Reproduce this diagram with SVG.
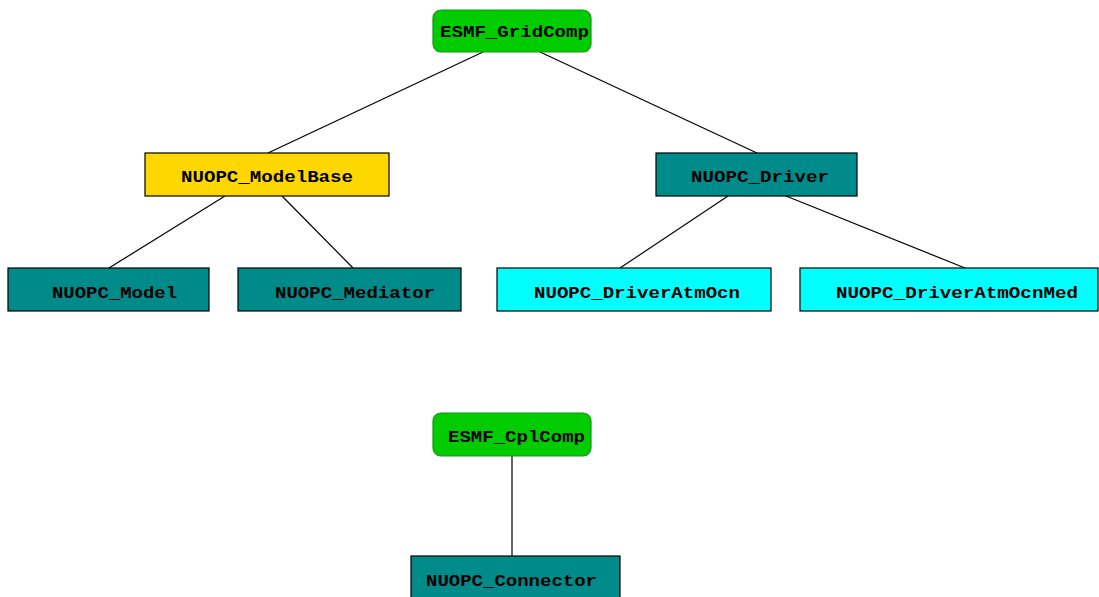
<svg xmlns="http://www.w3.org/2000/svg" width="1099" height="597" viewBox="0 0 1099 597">
<style>
.t{font-family:"Liberation Mono","Courier New",monospace;font-weight:bold;font-size:17px;fill:#000}
.b{stroke:#000;stroke-width:1.2}
.esmf{fill:#00cc00;stroke:#119911;stroke-width:1.2}
.gold{fill:#ffd700}
.teal{fill:#008b8b}
.cyan{fill:#00ffff}
.c{stroke:#000;stroke-width:1.2;fill:none}
</style>
<rect width="1099" height="597" fill="#fff"/>
<g id="connectors">
<line class="c" x1="483" y1="52" x2="268" y2="153"/>
<line class="c" x1="540" y1="52" x2="757" y2="153"/>
<line class="c" x1="225" y1="196" x2="109" y2="268"/>
<line class="c" x1="282" y1="196" x2="353" y2="268"/>
<line class="c" x1="728" y1="196" x2="620" y2="268"/>
<line class="c" x1="786" y1="196" x2="965" y2="268"/>
<line class="c" x1="512" y1="456" x2="512" y2="556"/>
</g>
<g id="ESMF_GridComp">
<rect class="esmf" x="433" y="10" width="158" height="42" rx="8"/>
<text class="t" x="440" y="37" textLength="149" lengthAdjust="spacingAndGlyphs">ESMF_GridComp</text>
</g>
<g id="NUOPC_ModelBase">
<rect class="b gold" x="145" y="153" width="244" height="43"/>
<text class="t" x="181" y="182" textLength="172" lengthAdjust="spacingAndGlyphs">NUOPC_ModelBase</text>
</g>
<g id="NUOPC_Driver">
<rect class="b teal" x="656" y="153" width="201" height="43"/>
<text class="t" x="691" y="182" textLength="138" lengthAdjust="spacingAndGlyphs">NUOPC_Driver</text>
</g>
<g id="NUOPC_Model">
<rect class="b teal" x="8" y="268" width="201" height="43"/>
<text class="t" x="52" y="298" textLength="125" lengthAdjust="spacingAndGlyphs">NUOPC_Model</text>
</g>
<g id="NUOPC_Mediator">
<rect class="b teal" x="238" y="268" width="223" height="43"/>
<text class="t" x="275" y="298" textLength="160" lengthAdjust="spacingAndGlyphs">NUOPC_Mediator</text>
</g>
<g id="NUOPC_DriverAtmOcn">
<rect class="b cyan" x="497" y="268" width="274" height="43"/>
<text class="t" x="534" y="298" textLength="206" lengthAdjust="spacingAndGlyphs">NUOPC_DriverAtmOcn</text>
</g>
<g id="NUOPC_DriverAtmOcnMed">
<rect class="b cyan" x="800" y="268" width="298" height="43"/>
<text class="t" x="836" y="298" textLength="242" lengthAdjust="spacingAndGlyphs">NUOPC_DriverAtmOcnMed</text>
</g>
<g id="ESMF_CplComp">
<rect class="esmf" x="433" y="413" width="158" height="43" rx="8"/>
<text class="t" x="448" y="442" textLength="137" lengthAdjust="spacingAndGlyphs">ESMF_CplComp</text>
</g>
<g id="NUOPC_Connector">
<rect class="b teal" x="411" y="556" width="209" height="50"/>
<text class="t" x="426" y="586" textLength="171" lengthAdjust="spacingAndGlyphs">NUOPC_Connector</text>
</g>
</svg>
